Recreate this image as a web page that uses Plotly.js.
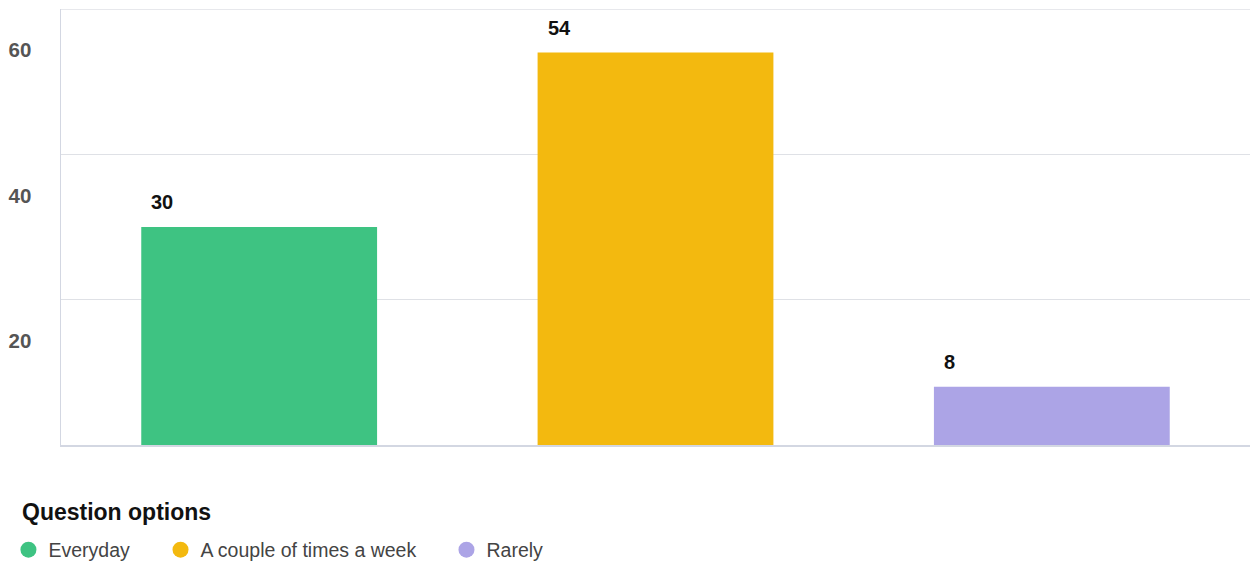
<!DOCTYPE html>
<html>
<head>
<meta charset="utf-8">
<script src="https://cdn.plot.ly/plotly-3.0.1.min.js"></script>
<style>html,body{margin:0;padding:0;background:#fff;}#chart{width:1250px;height:564px;}</style>
</head>
<body>
<div id="chart"></div>
<script>
var categories = ["Everyday", "A couple of times a week", "Rarely"];
var values = [30, 54, 8];
var colors = ["#3ec382", "#f3b90f", "#aca4e6"];
var yTickVals = [20, 40, 60];
var yTickText = ["20", "40", "60"];
var legendTitle = "Question options";

var FONT = "Liberation Sans, Arial, sans-serif";
var legendIds = ["legend", "legend2", "legend3"];
var legendX = [-0.0442, 0.0837, 0.3242];

var traces = [{
  type: "bar",
  x: categories,
  y: values,
  marker: {color: colors},
  showlegend: false,
  hoverinfo: "x+y"
}];
categories.forEach(function (c, i) {
  traces.push({
    type: "scatter",
    mode: "markers",
    x: [null],
    y: [null],
    name: c,
    legend: legendIds[i],
    marker: {color: colors[i], size: 18, symbol: "circle"},
    showlegend: true
  });
});

var annotations = categories.map(function (c, i) {
  return {
    x: c, y: values[i], xref: "x", yref: "y",
    text: String(values[i]),
    showarrow: false,
    xanchor: "left", yanchor: "bottom",
    xshift: -110, yshift: 12,
    font: {family: FONT, size: 20, color: "#111", weight: "bold"}
  };
});
annotations.push({
  xref: "paper", yref: "paper", x: -0.0345, y: -0.1537,
  xanchor: "left", yanchor: "middle", showarrow: false,
  text: legendTitle,
  font: {family: FONT, size: 23, color: "#111", weight: "bold"}
});

var layout = {
  width: 1250, height: 564,
  margin: {l: 61, r: 0, t: 9, b: 119, pad: 0, autoexpand: false},
  paper_bgcolor: "#fff", plot_bgcolor: "#fff",
  font: {family: FONT},
  bargap: 0.405,
  xaxis: {
    type: "category",
    categoryarray: categories,
    categoryorder: "array",
    showticklabels: false,
    showgrid: false,
    showline: true,
    linecolor: "#d3d7e2",
    linewidth: 1.5,
    zeroline: false,
    ticks: "",
    automargin: false
  },
  yaxis: {
    range: [0, 60],
    tickvals: yTickVals,
    ticktext: yTickText,
    showgrid: true,
    gridcolor: "#dfe1e6",
    gridwidth: 1.5,
    showline: true,
    linecolor: "#d3d7e2",
    linewidth: 1.5,
    zeroline: false,
    ticks: "",
    automargin: false,
    ticklabelshift: 41,
    ticklabelstandoff: 24,
    tickfont: {size: 20.5, color: "#555", family: FONT, weight: "bold"}
  },
  annotations: annotations,
  shapes: [{
    type: "line", xref: "paper", yref: "y", x0: 0, x1: 1, y0: 60, y1: 60,
    line: {color: "#dfe1e6", width: 1.5}
  }],
  showlegend: true
};
legendIds.forEach(function (id, i) {
  layout[id] = {
    orientation: "h",
    x: legendX[i], xanchor: "left",
    y: -0.2408, yanchor: "middle",
    font: {size: 19.5, color: "#444", family: FONT},
    itemclick: false
  };
});

Plotly.newPlot("chart", traces, layout, {displayModeBar: false, staticPlot: true});
</script>
</body>
</html>
